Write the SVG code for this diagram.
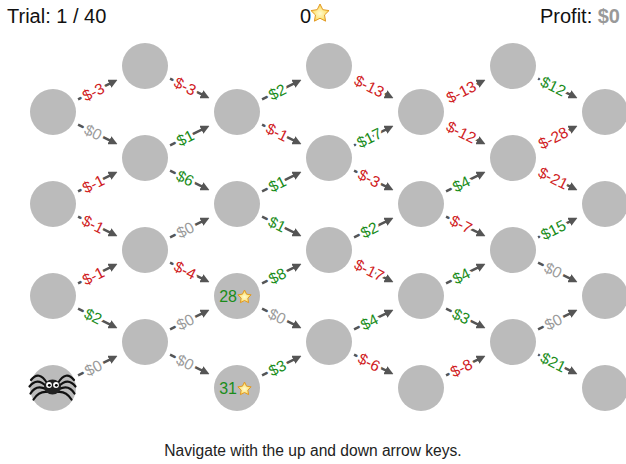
<svg xmlns="http://www.w3.org/2000/svg" width="626" height="464" viewBox="0 0 626 464">
  <style>
    .node { fill: #bbbbbb; }
    .hud { font-family: "Liberation Sans", Arial, sans-serif; font-size: 20px; fill: #111; }
    .edge line { stroke: #555; stroke-width: 2.5; marker-end: url(#arrow); }
    .edge text { font-family: "Liberation Sans", Arial, sans-serif; font-size: 15.5px; text-anchor: middle;
                 stroke: #fff; stroke-width: 6; stroke-linejoin: round; paint-order: stroke; }
    .neg text { fill: #d01c24; }
    .pos text { fill: #1a8c1a; }
    .zero text { fill: #9a9a9a; }
    .pts { font-family: "Liberation Sans", Arial, sans-serif; font-size: 16px; fill: #1a8c1a; }
    .leg { fill: none; stroke: #111; stroke-width: 2.2; stroke-linecap: round; }
  </style>
  <defs>
    <marker id="arrow" viewBox="0 0 10 10" refX="1" refY="5" markerWidth="9" markerHeight="9" markerUnits="userSpaceOnUse" orient="auto">
      <path d="M0,0 L10,5 L0,10 z" fill="#555"/>
    </marker>
    <radialGradient id="starFill" cx="0.5" cy="0.55" r="0.6">
      <stop offset="0" stop-color="#fffbd0"/>
      <stop offset="0.6" stop-color="#fde47a"/>
      <stop offset="1" stop-color="#f5b63a"/>
    </radialGradient>
    <path id="star" d="M0,-1 L0.294,-0.405 L0.951,-0.309 L0.476,0.155 L0.588,0.809 L0,0.5 L-0.588,0.809 L-0.476,0.155 L-0.951,-0.309 L-0.294,-0.405 Z"
          fill="url(#starFill)" stroke="#e29a22" stroke-width="1" stroke-linejoin="round" vector-effect="non-scaling-stroke"/>
  </defs>

  <rect width="626" height="464" fill="#fff"/>

  <!-- status bar -->
  <g id="hud">
    <text class="hud" x="7" y="23">Trial: 1 / 40</text>
    <text class="hud" x="311" y="23" text-anchor="end">0</text>
    <use href="#star" transform="translate(320,13.5) scale(9.5)"/>
    <text class="hud" x="620" y="23" text-anchor="end">Profit: <tspan font-weight="bold" fill="#999">$0</tspan></text>
  </g>

  <!-- connectors: each group sits at its source node and is turned toward the target -->
  <g id="connectors">
    <!-- column 0 -> 1 -->
    <g class="edge neg" transform="translate(53,112) rotate(-26.565)"><line x1="28" y1="0" x2="64" y2="0"/><text x="45" y="5.5">$-3</text></g>
    <g class="edge zero" transform="translate(53,112) rotate(26.565)"><line x1="28" y1="0" x2="64" y2="0"/><text x="45" y="5.5">$0</text></g>
    <g class="edge neg" transform="translate(53,204) rotate(-26.565)"><line x1="28" y1="0" x2="64" y2="0"/><text x="45" y="5.5">$-1</text></g>
    <g class="edge neg" transform="translate(53,204) rotate(26.565)"><line x1="28" y1="0" x2="64" y2="0"/><text x="45" y="5.5">$-1</text></g>
    <g class="edge neg" transform="translate(53,296) rotate(-26.565)"><line x1="28" y1="0" x2="64" y2="0"/><text x="45" y="5.5">$-1</text></g>
    <g class="edge pos" transform="translate(53,296) rotate(26.565)"><line x1="28" y1="0" x2="64" y2="0"/><text x="45" y="5.5">$2</text></g>
    <g class="edge zero" transform="translate(53,388) rotate(-26.565)"><line x1="28" y1="0" x2="64" y2="0"/><text x="45" y="5.5">$0</text></g>
    <!-- column 1 -> 2 -->
    <g class="edge neg" transform="translate(145,66) rotate(26.565)"><line x1="28" y1="0" x2="64" y2="0"/><text x="45" y="5.5">$-3</text></g>
    <g class="edge pos" transform="translate(145,158) rotate(-26.565)"><line x1="28" y1="0" x2="64" y2="0"/><text x="45" y="5.5">$1</text></g>
    <g class="edge pos" transform="translate(145,158) rotate(26.565)"><line x1="28" y1="0" x2="64" y2="0"/><text x="45" y="5.5">$6</text></g>
    <g class="edge zero" transform="translate(145,250) rotate(-26.565)"><line x1="28" y1="0" x2="64" y2="0"/><text x="45" y="5.5">$0</text></g>
    <g class="edge neg" transform="translate(145,250) rotate(26.565)"><line x1="28" y1="0" x2="64" y2="0"/><text x="45" y="5.5">$-4</text></g>
    <g class="edge zero" transform="translate(145,342) rotate(-26.565)"><line x1="28" y1="0" x2="64" y2="0"/><text x="45" y="5.5">$0</text></g>
    <g class="edge zero" transform="translate(145,342) rotate(26.565)"><line x1="28" y1="0" x2="64" y2="0"/><text x="45" y="5.5">$0</text></g>
    <!-- column 2 -> 3 -->
    <g class="edge pos" transform="translate(237,112) rotate(-26.565)"><line x1="28" y1="0" x2="64" y2="0"/><text x="45" y="5.5">$2</text></g>
    <g class="edge neg" transform="translate(237,112) rotate(26.565)"><line x1="28" y1="0" x2="64" y2="0"/><text x="45" y="5.5">$-1</text></g>
    <g class="edge pos" transform="translate(237,204) rotate(-26.565)"><line x1="28" y1="0" x2="64" y2="0"/><text x="45" y="5.5">$1</text></g>
    <g class="edge pos" transform="translate(237,204) rotate(26.565)"><line x1="28" y1="0" x2="64" y2="0"/><text x="45" y="5.5">$1</text></g>
    <g class="edge pos" transform="translate(237,296) rotate(-26.565)"><line x1="28" y1="0" x2="64" y2="0"/><text x="45" y="5.5">$8</text></g>
    <g class="edge zero" transform="translate(237,296) rotate(26.565)"><line x1="28" y1="0" x2="64" y2="0"/><text x="45" y="5.5">$0</text></g>
    <g class="edge pos" transform="translate(237,388) rotate(-26.565)"><line x1="28" y1="0" x2="64" y2="0"/><text x="45" y="5.5">$3</text></g>
    <!-- column 3 -> 4 -->
    <g class="edge neg" transform="translate(329,66) rotate(26.565)"><line x1="28" y1="0" x2="64" y2="0"/><text x="45" y="5.5">$-13</text></g>
    <g class="edge pos" transform="translate(329,158) rotate(-26.565)"><line x1="28" y1="0" x2="64" y2="0"/><text x="45" y="5.5">$17</text></g>
    <g class="edge neg" transform="translate(329,158) rotate(26.565)"><line x1="28" y1="0" x2="64" y2="0"/><text x="45" y="5.5">$-3</text></g>
    <g class="edge pos" transform="translate(329,250) rotate(-26.565)"><line x1="28" y1="0" x2="64" y2="0"/><text x="45" y="5.5">$2</text></g>
    <g class="edge neg" transform="translate(329,250) rotate(26.565)"><line x1="28" y1="0" x2="64" y2="0"/><text x="45" y="5.5">$-17</text></g>
    <g class="edge pos" transform="translate(329,342) rotate(-26.565)"><line x1="28" y1="0" x2="64" y2="0"/><text x="45" y="5.5">$4</text></g>
    <g class="edge neg" transform="translate(329,342) rotate(26.565)"><line x1="28" y1="0" x2="64" y2="0"/><text x="45" y="5.5">$-6</text></g>
    <!-- column 4 -> 5 -->
    <g class="edge neg" transform="translate(421,112) rotate(-26.565)"><line x1="28" y1="0" x2="64" y2="0"/><text x="45" y="5.5">$-13</text></g>
    <g class="edge neg" transform="translate(421,112) rotate(26.565)"><line x1="28" y1="0" x2="64" y2="0"/><text x="45" y="5.5">$-12</text></g>
    <g class="edge pos" transform="translate(421,204) rotate(-26.565)"><line x1="28" y1="0" x2="64" y2="0"/><text x="45" y="5.5">$4</text></g>
    <g class="edge neg" transform="translate(421,204) rotate(26.565)"><line x1="28" y1="0" x2="64" y2="0"/><text x="45" y="5.5">$-7</text></g>
    <g class="edge pos" transform="translate(421,296) rotate(-26.565)"><line x1="28" y1="0" x2="64" y2="0"/><text x="45" y="5.5">$4</text></g>
    <g class="edge pos" transform="translate(421,296) rotate(26.565)"><line x1="28" y1="0" x2="64" y2="0"/><text x="45" y="5.5">$3</text></g>
    <g class="edge neg" transform="translate(421,388) rotate(-26.565)"><line x1="28" y1="0" x2="64" y2="0"/><text x="45" y="5.5">$-8</text></g>
    <!-- column 5 -> 6 -->
    <g class="edge pos" transform="translate(513,66) rotate(26.565)"><line x1="28" y1="0" x2="64" y2="0"/><text x="45" y="5.5">$12</text></g>
    <g class="edge neg" transform="translate(513,158) rotate(-26.565)"><line x1="28" y1="0" x2="64" y2="0"/><text x="45" y="5.5">$-28</text></g>
    <g class="edge neg" transform="translate(513,158) rotate(26.565)"><line x1="28" y1="0" x2="64" y2="0"/><text x="45" y="5.5">$-21</text></g>
    <g class="edge pos" transform="translate(513,250) rotate(-26.565)"><line x1="28" y1="0" x2="64" y2="0"/><text x="45" y="5.5">$15</text></g>
    <g class="edge zero" transform="translate(513,250) rotate(26.565)"><line x1="28" y1="0" x2="64" y2="0"/><text x="45" y="5.5">$0</text></g>
    <g class="edge zero" transform="translate(513,342) rotate(-26.565)"><line x1="28" y1="0" x2="64" y2="0"/><text x="45" y="5.5">$0</text></g>
    <g class="edge pos" transform="translate(513,342) rotate(26.565)"><line x1="28" y1="0" x2="64" y2="0"/><text x="45" y="5.5">$21</text></g>
  </g>

  <!-- nodes -->
  <g id="n0-0"><circle class="node" cx="53" cy="112" r="23"/></g>
  <g id="n0-1"><circle class="node" cx="53" cy="204" r="23"/></g>
  <g id="n0-2"><circle class="node" cx="53" cy="296" r="23"/></g>
  <g id="n0-3">
    <circle class="node" cx="53" cy="388" r="23"/>
    <g id="spider">
      <path class="leg" d="M47,383 Q39,370 31,380"/>
      <path class="leg" d="M46,386 Q37,377 29.5,386.5"/>
      <path class="leg" d="M46,389 Q36,384 30.5,393.5"/>
      <path class="leg" d="M47,392 Q39,391 33.5,399.5"/>
      <path class="leg" d="M58,383 Q66,370 74,380"/>
      <path class="leg" d="M59,386 Q68,377 75.5,386.5"/>
      <path class="leg" d="M59,389 Q69,384 74.5,393.5"/>
      <path class="leg" d="M58,392 Q66,391 71.5,399.5"/>
      <ellipse cx="52.5" cy="387" rx="8.5" ry="7.5" fill="#222"/>
      <circle cx="49" cy="385" r="2.9" fill="#fff"/>
      <circle cx="56" cy="385" r="2.9" fill="#fff"/>
      <circle cx="49.3" cy="385.3" r="1.4" fill="#000"/>
      <circle cx="56.3" cy="385.3" r="1.4" fill="#000"/>
    </g>
  </g>

  <g id="n1-0"><circle class="node" cx="145" cy="66" r="23"/></g>
  <g id="n1-1"><circle class="node" cx="145" cy="158" r="23"/></g>
  <g id="n1-2"><circle class="node" cx="145" cy="250" r="23"/></g>
  <g id="n1-3"><circle class="node" cx="145" cy="342" r="23"/></g>

  <g id="n2-0"><circle class="node" cx="237" cy="112" r="23"/></g>
  <g id="n2-1"><circle class="node" cx="237" cy="204" r="23"/></g>
  <g id="n2-2">
    <circle class="node" cx="237" cy="296" r="23"/>
    <text class="pts" x="237" y="302" text-anchor="end">28</text>
    <use href="#star" transform="translate(244.5,297) scale(7)"/>
  </g>
  <g id="n2-3">
    <circle class="node" cx="237" cy="388" r="23"/>
    <text class="pts" x="237" y="394" text-anchor="end">31</text>
    <use href="#star" transform="translate(244.5,389) scale(7)"/>
  </g>

  <g id="n3-0"><circle class="node" cx="329" cy="66" r="23"/></g>
  <g id="n3-1"><circle class="node" cx="329" cy="158" r="23"/></g>
  <g id="n3-2"><circle class="node" cx="329" cy="250" r="23"/></g>
  <g id="n3-3"><circle class="node" cx="329" cy="342" r="23"/></g>

  <g id="n4-0"><circle class="node" cx="421" cy="112" r="23"/></g>
  <g id="n4-1"><circle class="node" cx="421" cy="204" r="23"/></g>
  <g id="n4-2"><circle class="node" cx="421" cy="296" r="23"/></g>
  <g id="n4-3"><circle class="node" cx="421" cy="388" r="23"/></g>

  <g id="n5-0"><circle class="node" cx="513" cy="66" r="23"/></g>
  <g id="n5-1"><circle class="node" cx="513" cy="158" r="23"/></g>
  <g id="n5-2"><circle class="node" cx="513" cy="250" r="23"/></g>
  <g id="n5-3"><circle class="node" cx="513" cy="342" r="23"/></g>

  <g id="n6-0"><circle class="node" cx="605" cy="112" r="23"/></g>
  <g id="n6-1"><circle class="node" cx="605" cy="204" r="23"/></g>
  <g id="n6-2"><circle class="node" cx="605" cy="296" r="23"/></g>
  <g id="n6-3"><circle class="node" cx="605" cy="388" r="23"/></g>

  <text x="313" y="456" text-anchor="middle" font-family="'Liberation Sans', Arial, sans-serif" font-size="15.6" fill="#222">Navigate with the up and down arrow keys.</text>
</svg>
